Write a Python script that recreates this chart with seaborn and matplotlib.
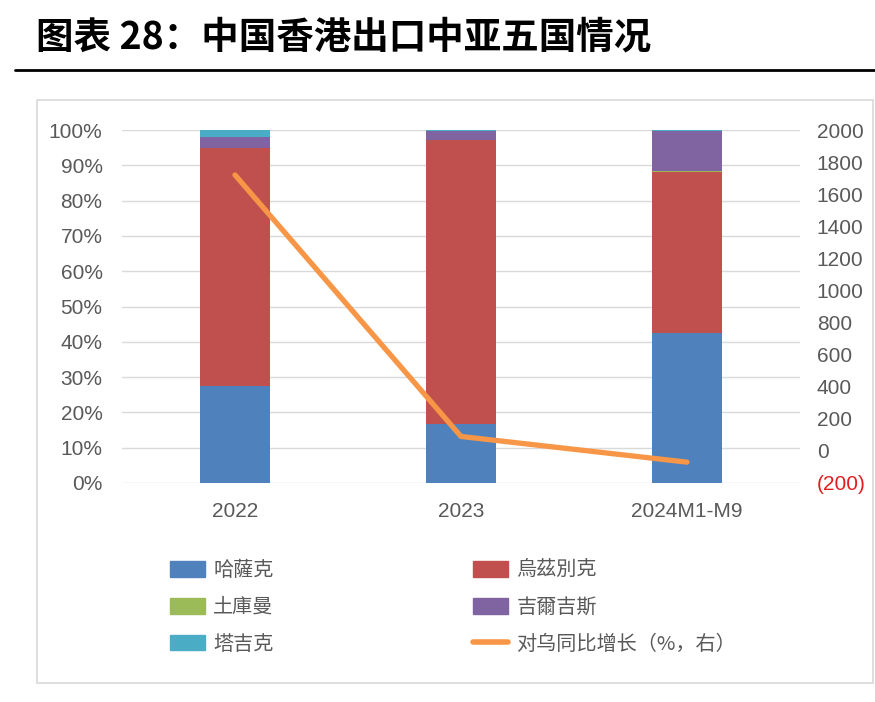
"""中国香港出口中亚五国情况"""
import numpy as np
import pandas as pd
import matplotlib
matplotlib.use("Agg")
import matplotlib.pyplot as plt
import seaborn as sns
from matplotlib.patches import Patch, Rectangle
from matplotlib.lines import Line2D

sns.set_style("white")
plt.rcParams['font.family'] = ['Liberation Sans', 'Noto Sans CJK SC', 'DejaVu Sans']

# ================= DATA =================
years = ['2022', '2023', '2024M1-M9']
kaz = [27.5, 16.7, 42.5]     # 哈薩克 share (%)
uzb = [67.4, 80.5, 45.7]     # 烏茲別克
tkm = [0.1, 0.1, 0.1]        # 土庫曼
kgz = [3.1, 2.4, 11.4]       # 吉爾吉斯
tjk = [1.9, 0.3, 0.3]        # 塔吉克
yoy_uzb = [1720, 90, -70]    # 对乌同比增长 (%, right axis)

names = ['哈薩克', '烏茲別克', '土庫曼', '吉爾吉斯', '塔吉克']
colors = ['#4F81BD', '#C0504D', '#9BBB59', '#8064A2', '#4BACC6']
line_color = '#F79646'
text_color = '#595959'

df = pd.DataFrame({'year': years, '哈薩克': kaz, '烏茲別克': uzb, '土庫曼': tkm,
                   '吉爾吉斯': kgz, '塔吉克': tjk})
cum = df[names].cumsum(axis=1)

# ================= PLOT =================
fig = plt.figure(figsize=(8.75, 7.02), dpi=100)
ax = fig.add_axes([122 / 875, 1 - 483 / 702, 678 / 875, 353 / 702])

# stacked bars: draw cumulative totals from top to bottom
for name, color in reversed(list(zip(names, colors))):
    sns.barplot(x=df['year'], y=cum[name], color=color, width=0.31,
                saturation=1, linewidth=0, ax=ax, order=years)

ax.set_ylim(0, 100)
ax.set_xlim(-0.5, 2.5)
ax.set_yticks(np.arange(0, 101, 10))
ax.set_yticklabels([f'{v}%' for v in range(0, 101, 10)])
ax.yaxis.grid(True, color='#d9d9d9', linewidth=1)
ax.set_axisbelow(True)
ax.set_xlabel('')
ax.set_ylabel('')
ax.tick_params(axis='both', length=0, labelsize=15, labelcolor=text_color)
ax.tick_params(axis='x', pad=14)
ax.tick_params(axis='y', pad=14)
for s in ax.spines.values():
    s.set_visible(False)

ax2 = ax.twinx()
sns.lineplot(x=np.arange(len(years)), y=yoy_uzb, color=line_color,
             linewidth=3.8, ax=ax2)
ax2.set_ylim(-200, 2000)
ax2.set_yticks(np.arange(-200, 2001, 200))
ax2.set_yticklabels(['(200)'] + [str(v) for v in range(0, 2001, 200)])
ax2.tick_params(axis='y', length=0, labelsize=15, labelcolor=text_color, pad=12)
ax2.get_yticklabels()[0].set_color('#e02020')
for s in ax2.spines.values():
    s.set_visible(False)

# legend
handles = [Patch(color=colors[0]), Patch(color=colors[2]), Patch(color=colors[4]),
           Patch(color=colors[1]), Patch(color=colors[3]),
           Line2D([], [], color=line_color, linewidth=4)]
labels = ['哈薩克', '土庫曼', '塔吉克', '烏茲別克', '吉爾吉斯', '对乌同比增长（%，右）']
fig.legend(handles, labels, ncol=2, loc='upper left', bbox_to_anchor=(152 / 875, 1 - 542 / 702),
           frameon=False, labelcolor=text_color, handlelength=1.75,
           handleheight=0.8, columnspacing=9.9, labelspacing=0.78, handletextpad=0.4,
           prop={'family': ['Noto Sans CJK SC'], 'size': 14.5})

# chart frame
fig.add_artist(Rectangle((37 / 875, 1 - 683 / 702), 836 / 875, 583 / 702,
                         transform=fig.transFigure, fill=False,
                         edgecolor='#d9d9d9', linewidth=1.2))

# title and rule
fig.text(36 / 875, 1 - 37 / 702, '图表 28：中国香港出口中亚五国情况', fontsize=27,
         fontweight='bold', va='center', ha='left', color='black',
         family=['Noto Sans CJK SC', 'DejaVu Sans'])
fig.add_artist(Line2D([15 / 875, 1], [1 - 70 / 702, 1 - 70 / 702],
                      transform=fig.transFigure, color='black', linewidth=2))

fig.savefig('out.png', dpi=100)
